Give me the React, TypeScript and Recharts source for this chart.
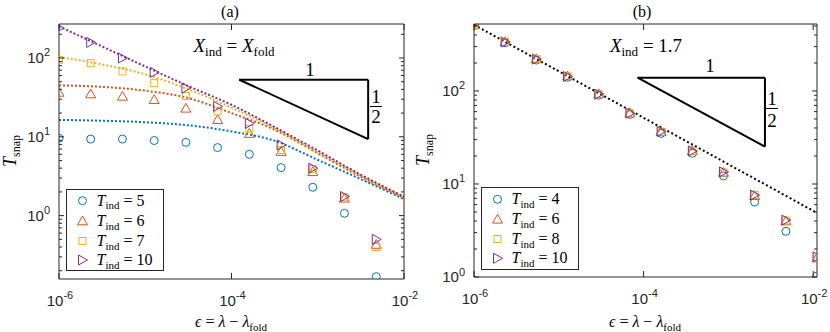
import React from 'react';
import { ComposedChart, XAxis, YAxis, Scatter, Line, ReferenceLine } from 'recharts';

const C_BLUE = '#0072BD';
const C_ORANGE = '#D95319';
const C_YELLOW = '#EDB120';
const C_PURPLE = '#7E2F8E';
const AXIS = '#262626';
const SANS = '"Liberation Sans", Arial, Helvetica, sans-serif';
const SERIF = '"Liberation Serif", "Times New Roman", "DejaVu Serif", serif';

// ---------- panel (a) data ----------
const epsA = [1e-6, 2.33e-6, 5.44e-6, 1.27e-5, 2.96e-5, 6.9e-5, 1.61e-4, 3.76e-4, 8.76e-4, 2.04e-3, 4.77e-3];
const aT5 = [9.6, 9.36, 9.36, 8.97, 8.5, 7.3, 6.0, 4.07, 2.29, 1.07, 0.168];
const aT6 = [36.6, 34.9, 32.6, 29.6, 23.0, 16.5, 11.0, 6.5, 3.6, 1.66, 0.43];
const aT7 = [95, 86, 67.6, 48, 33, 21, 12.6, 6.8, 3.9, 1.71, 0.4];
const aT10 = [240, 158, 100, 65.6, 41.5, 24.3, 14.8, 7.9, 4.0, 1.75, 0.5];

const fitEps = [1e-6, 3.16e-6, 1e-5, 3.16e-5, 1e-4, 3.16e-4, 1e-3, 3.16e-3, 1e-2];
const fit5 = [16.4, 16.0, 15.3, 14.0, 11.7, 8.9, 5.1, 2.9, 1.62];
const fit6 = [45, 43, 38.5, 31, 20, 12.3, 6.2, 3.1, 1.68];
const fit7 = [103, 83, 62, 40, 23.5, 12.8, 6.4, 3.2, 1.7];
const fit10 = [252, 140, 78, 44, 25.5, 13.3, 6.7, 3.3, 1.74];

// ---------- panel (b) data ----------
const epsB = [1e-6, 2.33e-6, 5.44e-6, 1.27e-5, 2.96e-5, 6.9e-5, 1.61e-4, 3.76e-4, 8.76e-4, 2.04e-3, 4.77e-3, 1.11e-2];
const bT4 = [505, 330, 215, 140, 90, 56, 35, 21.4, 12.2, 6.4, 3.1, 1.025];
const bT6 = [515, 338, 222, 145, 93, 58, 36.5, 22.8, 13.3, 7.5, 4.0, 1.6];
const bT8 = [515, 336, 220, 144, 92.5, 57.6, 36.5, 22.6, 13.3, 7.6, 4.05, 1.62];
const bT10 = [515, 336, 220, 143, 92.4, 57.6, 36.8, 22.6, 13.5, 7.6, 4.08, 1.65];
const bLineEps = [1e-6, 1.11e-2];
const bLineT = [515, 4.89];

// ---------- axes ----------
const domXA = [1e-6, 1e-2];
const domYA = [0.157, 270];
const domXB = [1e-6, 1.11e-2];
const domYB = [1, 525];
const xMajor = [1e-6, 1e-4, 1e-2];
const xExp = ['-6', '-4', '-2'];
const yMajor = [1, 10, 100];
const yExp = ['0', '1', '2'];
const yTicksA = [0.2, 0.3, 0.4, 0.5, 0.6, 0.7, 0.8, 0.9, 1, 2, 3, 4, 5, 6, 7, 8, 9, 10, 20, 30, 40, 50, 60, 70, 80, 90, 100, 200];
const yTicksB = [1, 2, 3, 4, 5, 6, 7, 8, 9, 10, 20, 30, 40, 50, 60, 70, 80, 90, 100, 200, 300, 400, 500];

// slope triangles (data coords)
const triAx = [1.23e-4, 3.84e-3];
const triAy = [53, 9.35];
const triBx = [8.5e-5, 2.7e-3];
const triBy = [139, 25.2];

const legendA = ['5', '6', '7', '10'];
const legendB = ['4', '6', '8', '10'];
const shapes = ['o', '^', 's', '>'];
const colors = [C_BLUE, C_ORANGE, C_YELLOW, C_PURPLE];

const toPts = (xs: number[], ys: number[]) => xs.map((x, i) => ({ x, y: ys[i] }));

function Marker({ shape, cx, cy, color }: { shape: string; cx: number; cy: number; color: string }) {
  const common = { fill: 'none', stroke: color, strokeWidth: 1 };
  if (shape === 'o') return <circle cx={cx} cy={cy} r={4} {...common} />;
  if (shape === '^')
    return <polygon points={`${cx},${cy - 5} ${cx - 5},${cy + 3.8} ${cx + 5},${cy + 3.8}`} {...common} />;
  if (shape === 's') return <rect x={cx - 3.5} y={cy - 3.5} width={7} height={7} {...common} />;
  return <polygon points={`${cx - 4},${cy - 5} ${cx - 4},${cy + 5} ${cx + 5},${cy}`} {...common} />;
}

function makeTick(side: string, majors: number[], exps: string[]) {
  return (props: any) => {
    const { x, y, payload } = props;
    const v = payload.value;
    const idx = majors.findIndex((m) => Math.abs(v - m) <= m * 1e-6);
    const major = idx >= 0;
    const len = side === 'left' || side === 'right' ? (major ? 5 : 3) : 6;
    let line: any = null;
    if (side === 'left') line = <line x1={x} y1={y} x2={x + len} y2={y} stroke={AXIS} strokeWidth={1} />;
    if (side === 'right') line = <line x1={x - len} y1={y} x2={x} y2={y} stroke={AXIS} strokeWidth={1} />;
    if (side === 'bottom') line = <line x1={x} y1={y} x2={x} y2={y - len} stroke={AXIS} strokeWidth={1} />;
    if (side === 'top') line = <line x1={x} y1={y} x2={x} y2={y + len} stroke={AXIS} strokeWidth={1} />;
    let label: any = null;
    if (major && side === 'left')
      label = (
        <text x={x - 9} y={y + 5} textAnchor="end" fontFamily={SANS} fontSize={15} fill={AXIS}>
          10<tspan dy={-6.5} fontSize={11}>{exps[idx]}</tspan>
        </text>
      );
    if (major && side === 'bottom')
      label = (
        <text x={x + 1} y={y + 27} textAnchor="middle" fontFamily={SANS} fontSize={15} fill={AXIS}>
          10<tspan dy={-7} fontSize={11}>{exps[idx]}</tspan>
        </text>
      );
    return (
      <g>
        {line}
        {label}
      </g>
    );
  };
}

const axisLine = { stroke: AXIS, strokeWidth: 1 };

function Panel(props: {
  margin: any;
  domX: number[];
  domY: number[];
  yTicks: number[];
  series: { xs: number[]; ys: number[] }[];
  fits: { xs: number[]; ys: number[]; color: string; dash: string }[];
  tri: { xs: number[]; ys: number[] };
}) {
  const { margin, domX, domY, yTicks, series, fits, tri } = props;
  return (
    <ComposedChart width={415} height={332} margin={margin} style={{ overflow: 'visible' }}>
      <XAxis
        xAxisId="b"
        dataKey="x"
        type="number"
        scale="log"
        domain={domX}
        allowDataOverflow
        ticks={xMajor}
        interval={0}
        height={1}
        tickSize={0}
        tickMargin={0}
        tickLine={false}
        axisLine={axisLine}
        tick={makeTick('bottom', xMajor, xExp)}
        orientation="bottom"
      />
      <XAxis
        xAxisId="t"
        dataKey="x"
        type="number"
        scale="log"
        domain={domX}
        allowDataOverflow
        ticks={xMajor}
        interval={0}
        height={1}
        tickSize={0}
        tickMargin={0}
        tickLine={false}
        axisLine={axisLine}
        tick={makeTick('top', xMajor, xExp)}
        orientation="top"
      />
      <YAxis
        yAxisId="l"
        dataKey="y"
        type="number"
        scale="log"
        domain={domY}
        allowDataOverflow
        ticks={yTicks}
        interval={0}
        width={1}
        tickSize={0}
        tickMargin={0}
        tickLine={false}
        axisLine={axisLine}
        tick={makeTick('left', yMajor, yExp)}
        orientation="left"
      />
      <YAxis
        yAxisId="r"
        dataKey="y"
        type="number"
        scale="log"
        domain={domY}
        allowDataOverflow
        ticks={yTicks}
        interval={0}
        width={1}
        tickSize={0}
        tickMargin={0}
        tickLine={false}
        axisLine={axisLine}
        tick={makeTick('right', yMajor, yExp)}
        orientation="right"
      />
      <ReferenceLine xAxisId="b" yAxisId="l" ifOverflow="visible" stroke="#000" strokeWidth={2}
        segment={[{ x: tri.xs[0], y: tri.ys[0] }, { x: tri.xs[1], y: tri.ys[0] }]} />
      <ReferenceLine xAxisId="b" yAxisId="l" ifOverflow="visible" stroke="#000" strokeWidth={2}
        segment={[{ x: tri.xs[1], y: tri.ys[0] }, { x: tri.xs[1], y: tri.ys[1] }]} />
      <ReferenceLine xAxisId="b" yAxisId="l" ifOverflow="visible" stroke="#000" strokeWidth={2}
        segment={[{ x: tri.xs[0], y: tri.ys[0] }, { x: tri.xs[1], y: tri.ys[1] }]} />
      {series.map((s, i) => (
        <Scatter
          key={'s' + i}
          xAxisId="b"
          yAxisId="l"
          dataKey="y"
          data={toPts(s.xs, s.ys)}
          isAnimationActive={false}
          shape={(p: any) => <Marker shape={shapes[i]} cx={p.cx} cy={p.cy} color={colors[i]} />}
        />
      ))}
      {fits.map((f, i) => (
        <Line
          key={'f' + i}
          xAxisId="b"
          yAxisId="l"
          dataKey="y"
          data={toPts(f.xs, f.ys)}
          type="monotone"
          stroke={f.color}
          strokeWidth={2}
          strokeDasharray={f.dash}
          dot={false}
          activeDot={false}
          isAnimationActive={false}
        />
      ))}
    </ComposedChart>
  );
}

function LegendBox({ x, y, w, h, rows, vals }: { x: number; y: number; w: number; h: number; rows: number[]; vals: string[] }) {
  return (
    <g>
      <rect x={x} y={y} width={w} height={h} fill="#fff" stroke={AXIS} strokeWidth={1} />
      {vals.map((v, i) => (
        <g key={i}>
          <Marker shape={shapes[i]} cx={x + 16} cy={rows[i]} color={colors[i]} />
          <text x={x + 30} y={rows[i] + 5} fontFamily={SERIF} fontSize={16} fill="#000">
            <tspan fontStyle="italic">T</tspan>
            <tspan fontSize={11} dy={3.5}>ind</tspan>
            <tspan dy={-3.5}>{'\u00A0=\u00A0' + v}</tspan>
          </text>
        </g>
      ))}
    </g>
  );
}

function Overlay() {
  const ann = 19;
  return (
    <svg width={830} height={332} style={{ position: 'absolute', left: 0, top: 0, pointerEvents: 'none' }}>
      <text x={230} y={17} textAnchor="middle" fontFamily={SERIF} fontSize={16}>(a)</text>
      <text x={642} y={17} textAnchor="middle" fontFamily={SERIF} fontSize={16}>(b)</text>
      <text x={234} y={52} textAnchor="middle" fontFamily={SERIF} fontSize={ann}>
        <tspan fontStyle="italic">X</tspan>
        <tspan fontSize={13} dy={4}>ind</tspan>
        <tspan dy={-4}>{'\u00A0=\u00A0'}</tspan>
        <tspan fontStyle="italic">X</tspan>
        <tspan fontSize={13} dy={4}>fold</tspan>
      </text>
      <text x={646} y={52} textAnchor="middle" fontFamily={SERIF} fontSize={ann}>
        <tspan fontStyle="italic">X</tspan>
        <tspan fontSize={13} dy={4}>ind</tspan>
        <tspan dy={-4}>{'\u00A0=\u00A01.7'}</tspan>
      </text>
      <text x={310} y={76} textAnchor="middle" fontFamily={SERIF} fontSize={ann}>1</text>
      <text x={376} y={103} textAnchor="middle" fontFamily={SERIF} fontSize={ann}>1</text>
      <line x1={370} x2={382} y1={106.5} y2={106.5} stroke="#000" strokeWidth={1} />
      <text x={376} y={123} textAnchor="middle" fontFamily={SERIF} fontSize={ann}>2</text>
      <text x={710} y={72} textAnchor="middle" fontFamily={SERIF} fontSize={ann}>1</text>
      <text x={772} y={105} textAnchor="middle" fontFamily={SERIF} fontSize={ann}>1</text>
      <line x1={766} x2={778} y1={108.5} y2={108.5} stroke="#000" strokeWidth={1} />
      <text x={772} y={127} textAnchor="middle" fontFamily={SERIF} fontSize={ann}>2</text>
      <text x={231} y={327} textAnchor="middle" fontFamily={SERIF} fontSize={16}>
        <tspan fontStyle="italic">{'\u03F5'}</tspan>
        <tspan>{'\u00A0=\u00A0'}</tspan>
        <tspan fontStyle="italic">{'\u03BB'}</tspan>
        <tspan>{'\u00A0\u2212\u00A0'}</tspan>
        <tspan fontStyle="italic">{'\u03BB'}</tspan>
        <tspan fontSize={11} dy={3.5}>fold</tspan>
      </text>
      <text x={645} y={327} textAnchor="middle" fontFamily={SERIF} fontSize={16}>
        <tspan fontStyle="italic">{'\u03F5'}</tspan>
        <tspan>{'\u00A0=\u00A0'}</tspan>
        <tspan fontStyle="italic">{'\u03BB'}</tspan>
        <tspan>{'\u00A0\u2212\u00A0'}</tspan>
        <tspan fontStyle="italic">{'\u03BB'}</tspan>
        <tspan fontSize={11} dy={3.5}>fold</tspan>
      </text>
      <text transform="translate(16,151) rotate(-90)" textAnchor="middle" fontFamily={SERIF} fontSize={18}>
        <tspan fontStyle="italic">T</tspan>
        <tspan fontSize={12} dy={4}>snap</tspan>
      </text>
      <text transform="translate(429,150) rotate(-90)" textAnchor="middle" fontFamily={SERIF} fontSize={18}>
        <tspan fontStyle="italic">T</tspan>
        <tspan fontSize={12} dy={4}>snap</tspan>
      </text>
      <LegendBox x={66.5} y={189.5} w={97} h={81} rows={[200.7, 221, 241, 260]} vals={legendA} />
      <LegendBox x={481.5} y={187.5} w={97} h={82} rows={[199.3, 219.3, 239, 258.3]} vals={legendB} />
    </svg>
  );
}

export default function App() {
  const seriesA = [aT5, aT6, aT7, aT10].map((ys) => ({ xs: epsA, ys }));
  const fitsA = [fit5, fit6, fit7, fit10].map((ys, i) => ({ xs: fitEps, ys, color: colors[i], dash: '2 2' }));
  const seriesB = [bT4, bT6, bT8, bT10].map((ys) => ({ xs: epsB, ys }));
  const fitsB = [{ xs: bLineEps, ys: bLineT, color: '#000', dash: '2 2.5' }];
  return (
    <div style={{ position: 'absolute', left: 0, top: 0, width: 830, height: 332, background: '#fff' }}>
      <style>{`.recharts-surface{overflow:visible !important}.recharts-wrapper{overflow:visible !important}`}</style>
      <div style={{ position: 'absolute', left: 415, top: 0 }}>
        <Panel
          margin={{ top: 23, right: 12, bottom: 54, left: 58 }}
          domX={domXB}
          domY={domYB}
          yTicks={yTicksB}
          series={seriesB}
          fits={fitsB}
          tri={{ xs: triBx, ys: triBy }}
        />
      </div>
      <div style={{ position: 'absolute', left: 0, top: 0 }}>
        <Panel
          margin={{ top: 23, right: 10, bottom: 52, left: 58 }}
          domX={domXA}
          domY={domYA}
          yTicks={yTicksA}
          series={seriesA}
          fits={fitsA}
          tri={{ xs: triAx, ys: triAy }}
        />
      </div>
      <Overlay />
    </div>
  );
}
